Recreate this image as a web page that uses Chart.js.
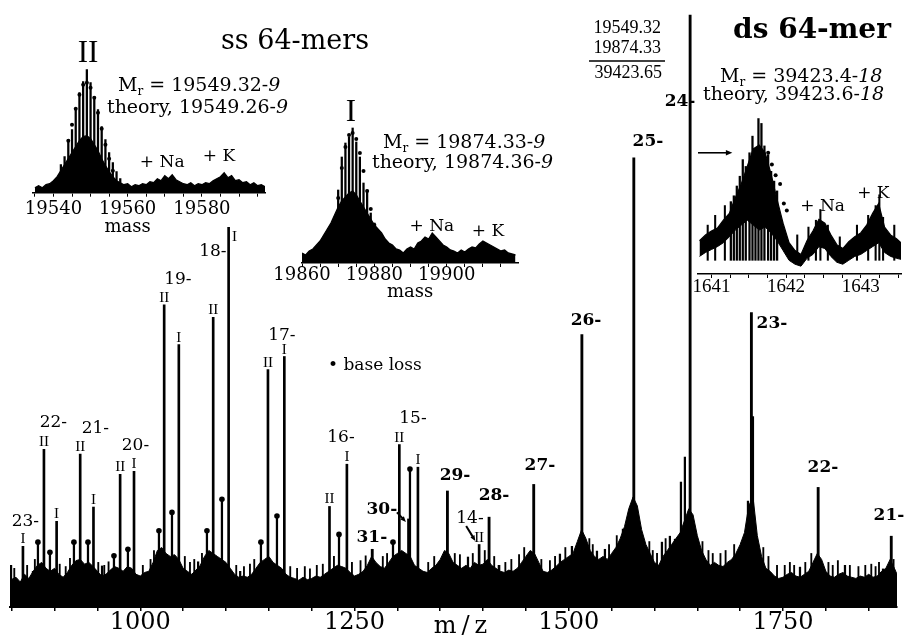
<!DOCTYPE html>
<html><head><meta charset="utf-8">
<script src="https://cdn.jsdelivr.net/npm/chart.js@4.4.1/dist/chart.umd.min.js"></script>
<style>
html,body{margin:0;padding:0;background:#fff;}
#wrap{position:relative;width:905px;height:636px;overflow:hidden;background:#fff;}
#wrap canvas{position:absolute;}
</style></head><body>
<div id="wrap">
<canvas id="main" width="905" height="636" style="left:0px;top:0px"></canvas>
<canvas id="ins1" width="285" height="210" style="left:20px;top:30px"></canvas>
<canvas id="ins2" width="280" height="210" style="left:270px;top:95px"></canvas>
<canvas id="ins3" width="215" height="210" style="left:690px;top:95px"></canvas>
</div>
<script>
// ================= DATA =================
// main spectrum: m/z axis
const mzTicks = [850,900,950,1000,1050,1100,1150,1200,1250,1300,1350,1400,1450,1500,1550,1600,1650,1700,1750,1800,1850];
const mzTickLabels = [1000,1250,1500,1750];

// baseline noise envelope (relative intensity)
const noiseMz = [848,855,860,865,870,875,880,885,890,895,900,905,910,915,920,925,930,935,940,945,950,955,960,965,970,975,980,985,990,995,1000,1005,1010,1015,1020,1025,1030,1035,1040,1045,1050,1055,1060,1065,1070,1075,1080,1085,1090,1095,1100,1105,1110,1115,1120,1125,1130,1135,1140,1145,1150,1155,1160,1165,1170,1175,1180,1185,1190,1195,1200,1205,1210,1215,1220,1225,1230,1235,1240,1245,1250,1255,1260,1265,1270,1275,1280,1285,1290,1295,1300,1305,1310,1315,1320,1325,1330,1335,1340,1345,1350,1355,1360,1365,1370,1375,1380,1385,1390,1395,1400,1405,1410,1415,1420,1425,1430,1435,1440,1445,1450,1455,1460,1465,1470,1475,1480,1485,1490,1495,1500,1505,1510,1515,1520,1525,1530,1535,1540,1545,1550,1555,1560,1565,1570,1575,1580,1585,1590,1595,1600,1605,1610,1615,1620,1625,1630,1635,1640,1645,1650,1655,1660,1665,1670,1675,1680,1685,1690,1695,1700,1705,1710,1715,1720,1725,1730,1735,1740,1745,1750,1755,1760,1765,1770,1775,1780,1785,1790,1795,1800,1805,1810,1815,1820,1825,1830,1835,1840,1845,1850,1855,1860,1865,1870,1875,1880,1883];
const noiseInt = [4.5,5.0,4.2,5.5,4.8,6.0,7.0,7.5,6.5,6.0,6.5,5.5,5.0,5.8,7.0,7.8,8.0,7.2,7.5,6.8,6.0,5.2,5.5,6.2,6.8,6.5,6.0,6.8,6.5,5.5,5.2,5.8,6.0,7.5,9.5,10.0,9.0,8.5,8.8,8.0,6.5,6.0,5.5,6.2,7.0,8.5,9.5,9.0,8.5,8.0,7.5,6.5,5.5,5.0,5.2,5.0,5.5,6.5,7.5,8.0,8.5,7.5,7.0,6.5,5.5,5.0,4.8,4.5,5.0,4.6,4.8,5.2,5.0,5.5,6.0,6.5,7.0,6.8,6.5,5.8,5.2,5.5,6.0,7.0,8.5,7.5,6.8,6.5,7.5,8.5,9.0,9.5,9.0,8.5,7.0,6.5,6.0,5.8,6.5,7.0,8.0,9.5,9.0,7.5,7.0,6.5,7.0,6.5,7.5,7.0,7.2,8.0,7.0,6.5,6.0,5.8,6.2,6.0,6.5,7.5,8.5,9.5,9.0,7.5,6.0,5.8,6.2,6.8,7.5,8.0,8.5,9.0,11.0,13.0,11.5,9.5,8.5,8.0,8.5,8.0,9.0,10.0,11.5,13.5,16.5,18.5,17.0,13.0,10.5,9.0,7.5,7.0,8.5,9.5,10.5,11.5,12.5,14.5,16.5,15.5,12.0,9.5,8.0,7.0,7.5,7.0,6.8,7.5,8.0,9.0,10.5,12.5,17.0,18.5,12.0,8.5,6.5,6.0,5.2,4.8,5.0,5.5,5.8,5.2,5.0,5.5,6.0,7.5,9.0,8.0,6.0,5.2,5.0,5.5,5.8,5.2,5.0,4.8,5.2,5.0,5.5,5.0,5.2,6.0,6.5,8.0,6.5,5.5];

// small noise hairs standing above the baseline band
const hairMz  = [853,868,877,906,913,918,951,958,963,1003,1012,1016,1052,1058,1063,1072,1112,1121,1128,1133,1175,1183,1192,1198,1206,1213,1226,1247,1257,1263,1283,1288,1336,1343,1367,1373,1388,1402,1413,1426,1433,1442,1448,1468,1478,1484,1496,1524,1528,1547,1556,1594,1598,1603,1613,1656,1663,1668,1677,1683,1693,1727,1733,1743,1752,1758,1763,1776,1783,1803,1808,1814,1828,1838,1846,1853,1858,1862,1879];
const hairInt = [6.5,7.0,8.0,7.2,6.8,8.2,7.5,7.0,7.6,7.0,8.0,9.5,8.5,7.5,8.0,9.0,7.0,6.8,7.2,8.0,6.8,6.5,6.8,6.4,7.0,7.2,8.5,7.5,7.8,8.6,8.5,9.0,7.5,8.5,9.0,8.8,9.0,9.5,8.5,7.5,8.0,8.8,10.0,8.0,7.8,8.5,10.0,11.5,10.5,10.5,12.0,11.0,9.5,9.0,11.5,11.0,9.5,9.0,9.0,9.5,10.5,10.0,8.5,7.0,7.0,7.5,7.0,7.5,9.0,7.5,7.0,7.8,7.0,6.8,7.0,7.2,6.8,7.5,8.0];

// ds 64-mer charge states (31- ... 21-)
const dsCharge = ['31-','30-','29-','28-','27-','26-','25-','24-','23-','22-','21-'];
const dsMz  = [1270.7,1313.1,1358.4,1407.0,1459.1,1515.3,1575.9,1641.6,1713.1,1791.0,1876.3];
const dsInt = [9.7,14.8,19.5,15.1,20.6,45.8,75.5,99.5,49.5,20.1,11.9];

// ss 64-mers charge states (23- ... 14-), strand II and strand I
const ssCharge = ['23-','22-','21-','20-','19-','18-','17-','16-','15-','14-'];
const ssIIMz  = [849.0,887.6,929.9,976.5,1027.9,1085.1,1149.0,1220.8,1302.3,1395.4];
const ssIIInt = [7.0,26.5,25.7,22.3,50.8,48.7,39.9,16.9,27.3,10.5];
const ssIMz   = [863.1,902.4,945.4,992.7,1045.0,1103.1,1168.1,1241.1,1324.0,1418.6];
const ssIInt  = [10.2,14.4,16.8,22.8,44.1,63.8,42.1,24.0,23.5,7.0];

// base-loss peaks (marked with a dot)
const baseLossMz  = [880.6,894.6,922.6,939.0,969.3,985.6,1021.8,1037.0,1077.8,1095.3,1140.8,1159.5,1231.9,1294.9,1314.7];
const baseLossInt = [10.9,9.2,10.9,10.9,8.6,9.7,12.8,15.9,12.8,18.1,10.9,15.3,12.2,10.9,23.2];

// other minor peaks
const minorMz  = [874.8,955.4,1067.5,1116.6,1382.4,1489.7,1503.7,1532.9,1542.2,1563.2,1608.7,1618.0,1623.9,1630.9,1635.5,1702.1,1709.1,1714.9,1769.8,1822.3,1866.7];
const minorInt = [6.0,6.9,7.6,6.0,8.4,8.9,10.2,9.4,9.7,13.1,10.9,11.9,11.4,21.0,25.2,10.9,17.8,32.0,6.7,7.0,6.4];

// inset 1: ss II, mass axis
const ins1Ticks = [19535,19540,19545,19550,19555,19560,19565,19570,19575,19580,19585,19590,19595];
const ins1TickLabels = [19540,19560,19580];
const ins1IsoMass = [19542,19543,19544,19545,19546,19547,19548,19549,19550,19551,19552,19553,19554,19555,19556,19557,19558];
const ins1IsoInt  = [28,36,53,63,83,100,111,123,110,96,83,66,53,40,30,21,14];
const ins1DotMass = [19544,19545,19546,19547,19548,19549,19550,19551,19552,19553,19554,19555,19556];
const ins1DotInt  = [52,68,84,98,108,110,105,95,80,64,48,34,22];
const ins1NoiseMass = [19535,19536,19537,19538,19539,19540,19541,19542,19543,19544,19545,19546,19547,19548,19549,19550,19551,19552,19553,19554,19555,19556,19557,19558,19559,19560,19561,19562,19563,19564,19565,19566,19567,19568,19569,19570,19571,19572,19573,19574,19575,19576,19577,19578,19579,19580,19581,19582,19583,19584,19585,19586,19587,19588,19589,19590,19591,19592,19593,19594,19595,19596,19597];
const ins1NoiseInt  = [5,7,5,8,9,12,16,22,28,34,40,46,52,56,57,54,48,42,34,27,21,16,12,10,8,9,6,8,7,9,8,11,10,14,12,17,14,18,13,11,9,8,10,7,9,8,10,9,12,14,16,20,15,17,12,13,10,11,8,10,7,8,6];

// inset 2: ss I, mass axis
const ins2Ticks = [19860,19865,19870,19875,19880,19885,19890,19895,19900,19905,19910,19915];
const ins2TickLabels = [19860,19880,19900];
const ins2IsoMass = [19869,19870,19871,19872,19873,19874,19875,19876,19877,19878,19879,19880,19881,19882];
const ins2IsoInt  = [43,73,106,120,126,135,121,106,80,73,50,40,30,22];
const ins2DotMass = [19870,19871,19872,19873,19874,19875,19876,19877,19878,19879,19880,19881];
const ins2DotInt  = [65,95,116,128,130,124,110,92,72,54,38,26];
const ins2NoiseMass = [19860,19861,19862,19863,19864,19865,19866,19867,19868,19869,19870,19871,19872,19873,19874,19875,19876,19877,19878,19879,19880,19881,19882,19883,19884,19885,19886,19887,19888,19889,19890,19891,19892,19893,19894,19895,19896,19897,19898,19899,19900,19901,19902,19903,19904,19905,19906,19907,19908,19909,19910,19911,19912,19913,19914,19915,19916,19917,19918,19919];
const ins2NoiseInt  = [10,8,12,14,18,22,28,34,40,48,56,62,66,70,72,68,62,56,50,44,38,34,30,24,20,18,14,13,10,14,16,14,20,22,26,24,30,26,22,18,16,13,12,10,13,11,14,16,15,19,22,20,18,16,14,12,13,10,9,8];

// inset 3: ds 24- charge state, m/z axis
const ins3Ticks = [1641,1641.25,1641.5,1641.75,1642,1642.25,1642.5,1642.75,1643,1643.25,1643.5];
const ins3TickLabels = [1641,1642,1643];
const ins3IsoMass = [1641.26,1641.30,1641.34,1641.38,1641.42,1641.46,1641.51,1641.55,1641.59,1641.63,1641.67,1641.71,1641.76,1641.80,1641.84,1641.88];
const ins3IsoInt  = [74,80,90,100,117,110,124,141,128,159,154,131,122,105,95,85];
const ins3SpikeMass = [1640.95,1641.05,1641.18,1642.15,1642.30,1642.40,1642.46,1642.56,1642.72,1642.95,1643.10,1643.20,1643.25,1643.30,1643.45];
const ins3SpikeInt  = [50,60,70,40,48,55,66,50,38,50,60,70,81,58,50];
const ins3DotMass = [1641.76,1641.81,1641.86,1641.92,1641.97,1642.01];
const ins3DotInt  = [124,112,101,92,72,65];
const ins3NoiseMass = [1640.84,1640.92,1641.00,1641.08,1641.16,1641.24,1641.32,1641.40,1641.48,1641.56,1641.64,1641.72,1641.80,1641.88,1641.96,1642.04,1642.12,1642.20,1642.28,1642.36,1642.44,1642.52,1642.60,1642.68,1642.76,1642.84,1642.92,1643.00,1643.08,1643.16,1643.24,1643.32,1643.40,1643.48,1643.54];
const ins3NoiseHigh = [34,40,44,47,55,62,78,92,110,128,132,124,102,76,52,32,24,20,34,44,56,52,40,30,26,33,38,42,50,62,72,48,40,36,32];
const ins3NoiseLow  = [18,22,25,28,32,38,45,50,55,50,45,48,42,34,24,14,10,8,16,20,28,26,18,12,10,14,18,20,24,28,32,22,18,16,15];

// ================= LAYOUT / STYLE =================
const SERIF = '"DejaVu Serif", serif';
const TIMES = '"Liberation Serif", serif';
const zip = (xs, ys) => xs.map((x, i) => ({x: x, y: ys[i]}));

// label anchors in data coordinates (m/z, intensity)
const ssChargeAt = [[865.9,14.4],[898.6,31.0],[947.6,30.0],[994.4,27.2],[1043.9,55.0],[1084.7,59.7],[1165.3,45.6],[1234.2,28.4],[1318.2,31.7],[1384.7,14.9]];
const dsChargeAt = [[1270.2,11.7],[1281.9,16.4],[1367.3,22.1],[1412.8,18.8],[1466.4,23.8],[1520.1,48.2],[1592.4,78.2],[1629.8,84.9],[1737.1,47.7],[1796.6,23.5],[1873.6,15.3]];
const mainArrows = [[1299.5,15.9,1310.0,14.3],[1380.3,13.6,1391.0,11.1]];

function drawRich(ctx, x, y, segs, size, family, align, weight) {
  const fontFor = (st) => {
    const parts = [];
    if (st === 'i') parts.push('italic');
    if (weight) parts.push(weight);
    parts.push((st === 'sub' ? Math.round(size * 0.62) : size) + 'px');
    parts.push(family);
    return parts.join(' ');
  };
  let total = 0;
  segs.forEach(sg => { ctx.font = fontFor(sg[1]); total += ctx.measureText(sg[0]).width; });
  let cx = align === 'center' ? x - total / 2 : (align === 'right' ? x - total : x);
  ctx.textAlign = 'left'; ctx.textBaseline = 'middle';
  segs.forEach(sg => {
    ctx.font = fontFor(sg[1]);
    ctx.fillText(sg[0], cx, sg[1] === 'sub' ? y + size * 0.3 : y);
    cx += ctx.measureText(sg[0]).width;
  });
}
function drawArrow(ctx, x1, y1, x2, y2, head, lw) {
  const a = Math.atan2(y2 - y1, x2 - x1);
  ctx.lineWidth = lw; ctx.beginPath(); ctx.moveTo(x1, y1);
  ctx.lineTo(x2 - Math.cos(a) * head * 0.8, y2 - Math.sin(a) * head * 0.8); ctx.stroke();
  ctx.beginPath(); ctx.moveTo(x2, y2);
  ctx.lineTo(x2 - head * Math.cos(a - 0.4), y2 - head * Math.sin(a - 0.4));
  ctx.lineTo(x2 - head * Math.cos(a + 0.4), y2 - head * Math.sin(a + 0.4));
  ctx.closePath(); ctx.fill();
}
function txt(ctx, t, x, y, font, align) {
  ctx.font = font; ctx.textAlign = align || 'center'; ctx.textBaseline = 'middle'; ctx.fillText(t, x, y);
}

const layoutTexts = [
  {segs:[['ss 64-mers']], x:295, y:42, size:27, align:'center'},
  {segs:[['ds 64-mer']], x:812, y:31, size:28, align:'center', weight:'bold'},
  {segs:[['19549.32']], x:661, y:28, size:18, family:TIMES, align:'right'},
  {segs:[['19874.33']], x:661, y:48, size:18, family:TIMES, align:'right'},
  {segs:[['39423.65']], x:662, y:73, size:18, family:TIMES, align:'right'},
  {segs:[['M'],['r','sub'],[' = 19549.32-'],['9','i']], x:118, y:86, size:19, align:'left'},
  {segs:[['theory, 19549.26-'],['9','i']], x:107, y:108, size:19, align:'left'},
  {segs:[['M'],['r','sub'],[' = 19874.33-'],['9','i']], x:383, y:143, size:19, align:'left'},
  {segs:[['theory, 19874.36-'],['9','i']], x:372, y:163, size:19, align:'left'},
  {segs:[['M'],['r','sub'],[' = 39423.4-'],['18','i']], x:720, y:77, size:19, align:'left'},
  {segs:[['theory, 39423.6-'],['18','i']], x:703, y:95, size:19, align:'left'}
];

const mainDecor = {
  id: 'mainDecor',
  afterDraw(chart) {
    const ctx = chart.ctx, xs = chart.scales.x, ys = chart.scales.y;
    const X = v => xs.getPixelForValue(v), Y = v => ys.getPixelForValue(v);
    ctx.save(); ctx.fillStyle = '#000'; ctx.strokeStyle = '#000';
    ssCharge.forEach((t, i) => txt(ctx, t, X(ssChargeAt[i][0]), Y(ssChargeAt[i][1]), '17px ' + SERIF));
    dsCharge.forEach((t, i) => txt(ctx, t, X(dsChargeAt[i][0]), Y(dsChargeAt[i][1]), 'bold 17px ' + SERIF));
    // strand numerals above the ss peaks
    ctx.font = '15px ' + TIMES; ctx.textAlign = 'center'; ctx.textBaseline = 'alphabetic';
    ssIIMz.forEach((m, i) => { if (i > 0) ctx.fillText('II', X(m), Y(ssIIInt[i]) - 3); });
    ssIMz.forEach((m, i) => {
      if (i === 9) return;
      if (i === 5) ctx.fillText('I', X(m) + 6, Y(ssIInt[i]) + 14);
      else ctx.fillText('I', X(m), Y(ssIInt[i]) - 3);
    });
    mainArrows.forEach(a => drawArrow(ctx, X(a[0]), Y(a[1]), X(a[2]), Y(a[3]), 6, 2));
    txt(ctx, '\u2022 base loss', X(1219.1), Y(40.6), '17px ' + SERIF, 'left');
    layoutTexts.forEach(o => drawRich(ctx, o.x, o.y, o.segs, o.size, o.family || SERIF, o.align, o.weight));
    ctx.lineWidth = 1.5; ctx.beginPath(); ctx.moveTo(589, 61); ctx.lineTo(665, 61); ctx.stroke();
    ctx.font = '24px ' + SERIF; ctx.textAlign = 'center'; ctx.textBaseline = 'alphabetic';
    try { ctx.letterSpacing = '5px'; } catch (e) {}
    ctx.fillText('m/z', 463, 633);
    try { ctx.letterSpacing = '0px'; } catch (e) {}
    ctx.restore();
  }
};

const barDs = (data, th) => ({type:'bar', data:data, backgroundColor:'#000', borderWidth:0, barThickness:th, grouped:false, order:2});

new Chart(document.getElementById('main'), {
  type: 'bar',
  data: { datasets: [
    {type:'line', data: zip(noiseMz, noiseInt), borderColor:'#000', backgroundColor:'#000', borderWidth:1, pointRadius:0, tension:0, fill:'origin', order:5},
    barDs(zip(hairMz, hairInt), 1.2),
    barDs(zip(dsMz, dsInt), 2.2),
    barDs(zip(ssIIMz, ssIIInt), 2),
    barDs(zip(ssIMz, ssIInt), 2),
    barDs(zip(baseLossMz, baseLossInt), 1.6),
    barDs(zip(minorMz, minorInt), 1.6),
    {type:'scatter', data: zip(baseLossMz, baseLossInt), pointStyle:'circle', pointRadius:2.8, backgroundColor:'#000', borderColor:'#000', borderWidth:0, order:1}
  ]},
  options: {
    responsive:false, animation:false, devicePixelRatio:1,
    layout:{padding:{left:10, right:8, top:12, bottom:0}},
    plugins:{legend:{display:false}, tooltip:{enabled:false}},
    scales:{
      x:{type:'linear', min:848, max:1883, offset:false,
        afterBuildTicks: s => { s.ticks = mzTicks.map(v => ({value:v})); },
        afterFit: s => { s.height = 29; },
        grid:{display:true, offset:false, drawOnChartArea:false, drawTicks:true, tickLength:4, color:'#000', lineWidth:1.5},
        border:{display:true, color:'#000', width:2},
        ticks:{autoSkip:false, maxRotation:0, padding:-3, color:'#000', font:{family:'"DejaVu Serif"', size:24},
          callback: v => mzTickLabels.includes(v) ? String(v) : ''}},
      y:{display:false, min:0, max:100}
    }
  },
  plugins:[mainDecor]
});

function notesPlugin(notes, arrows) {
  return { id:'notes', afterDraw(chart) {
    const ctx = chart.ctx, xs = chart.scales.x, ys = chart.scales.y;
    ctx.save(); ctx.fillStyle = '#000'; ctx.strokeStyle = '#000';
    notes.forEach(n => txt(ctx, n.t, xs.getPixelForValue(n.x), ys.getPixelForValue(n.y), n.font));
    (arrows || []).forEach(a => drawArrow(ctx, xs.getPixelForValue(a[0]), ys.getPixelForValue(a[1]), xs.getPixelForValue(a[2]), ys.getPixelForValue(a[3]), 7, 1.6));
    ctx.restore();
  }};
}

function insetChart(id, o) {
  const ds = [];
  if (o.low) {
    ds.push({type:'line', data: zip(o.noiseX, o.noiseY), borderColor:'#000', backgroundColor:'#000', borderWidth:1.2, pointRadius:0, tension:0, fill:'+1', order:5});
    ds.push({type:'line', data: zip(o.noiseX, o.low), borderColor:'#000', borderWidth:1, pointRadius:0, tension:0, fill:false, order:5});
  } else {
    ds.push({type:'line', data: zip(o.noiseX, o.noiseY), borderColor:'#000', backgroundColor:'#000', borderWidth:1.3, pointRadius:0, tension:0, fill:'origin', order:5});
  }
  ds.push({type:'bar', data: zip(o.isoX, o.isoY), backgroundColor:'#000', borderWidth:0, barThickness:1.6, grouped:false, base:o.barBase, order:2});
  if (o.spikeX) ds.push({type:'bar', data: zip(o.spikeX, o.spikeY), backgroundColor:'#000', borderWidth:0, barThickness:1.4, grouped:false, base:o.barBase, order:2});
  ds.push({type:'scatter', data: zip(o.dotX, o.dotY), pointStyle:'circle', pointRadius:2, backgroundColor:'#000', borderWidth:0, order:1});
  return new Chart(document.getElementById(id), {
    type:'bar',
    data:{datasets: ds},
    options:{
      responsive:false, animation:false, devicePixelRatio:1,
      layout:{padding:o.pad},
      plugins:{legend:{display:false}, tooltip:{enabled:false}},
      scales:{
        x:{type:'linear', min:o.min, max:o.max, offset:false,
          afterBuildTicks: s => { s.ticks = o.ticks.map(v => ({value:v})); },
          afterFit: s => { s.height = o.axisH; },
          grid:{display:true, offset:false, drawOnChartArea:false, drawTicks:true, tickLength:4, color:'#000', lineWidth:1},
          border:{display:true, color:'#000', width:1.6},
          ticks:{autoSkip:false, maxRotation:0, padding:o.tickPad, color:'#000', font:{family:o.tickFamily, size:o.tickSize},
            callback: v => o.labels.includes(v) ? String(v) : ''}},
        y:{display:false, min:0, max:o.ymax}
      }
    },
    plugins:[notesPlugin(o.notes, o.arrows)]
  });
}

insetChart('ins1', {
  noiseX: ins1NoiseMass, noiseY: ins1NoiseInt, isoX: ins1IsoMass, isoY: ins1IsoInt, dotX: ins1DotMass, dotY: ins1DotInt,
  min:19534.3, max:19597.0, ticks: ins1Ticks, labels: ins1TickLabels, ymax:137.7, barBase:0,
  pad:{left:12.3, right:40, top:25, bottom:0}, axisH:47.3, tickPad:2, tickFamily:'"DejaVu Serif"', tickSize:18,
  notes:[
    {t:'II', x:19549.3, y:138.7, font:'31px ' + TIMES},
    {t:'+ Na', x:19569.3, y:29.7, font:'17px ' + SERIF},
    {t:'+ K', x:19584.6, y:35.7, font:'17px ' + SERIF},
    {t:'mass', x:19560, y:-34.3, font:'18px ' + SERIF}
  ]
});
insetChart('ins2', {
  noiseX: ins2NoiseMass, noiseY: ins2NoiseInt, isoX: ins2IsoMass, isoY: ins2IsoInt, dotX: ins2DotMass, dotY: ins2DotInt,
  min:19860, max:19919.7, ticks: ins2Ticks, labels: ins2TickLabels, ymax:153, barBase:0,
  pad:{left:32, right:32, top:15, bottom:0}, axisH:42, tickPad:-2, tickFamily:'"DejaVu Serif"', tickSize:18,
  notes:[
    {t:'I', x:19873.5, y:150, font:'31px ' + TIMES},
    {t:'+ Na', x:19895.9, y:36, font:'17px ' + SERIF},
    {t:'+ K', x:19911.4, y:31, font:'17px ' + SERIF},
    {t:'mass', x:19889.9, y:-29, font:'18px ' + SERIF}
  ]
});
insetChart('ins3', {
  noiseX: ins3NoiseMass, noiseY: ins3NoiseHigh, low: ins3NoiseLow, isoX: ins3IsoMass, isoY: ins3IsoInt,
  spikeX: ins3SpikeMass, spikeY: ins3SpikeInt, dotX: ins3DotMass, dotY: ins3DotInt,
  min:1640.82, max:1643.54, ticks: ins3Ticks, labels: ins3TickLabels, ymax:179, barBase:14,
  pad:{left:8, right:0, top:0, bottom:0}, axisH:31, tickPad:-2, tickFamily:'"Liberation Serif"', tickSize:19,
  notes:[
    {t:'+ Na', x:1642.49, y:69, font:'17px ' + SERIF},
    {t:'+ K', x:1643.17, y:82, font:'17px ' + SERIF}
  ],
  arrows:[[1640.82,124,1641.28,124]]
});
</script>
</body></html>
